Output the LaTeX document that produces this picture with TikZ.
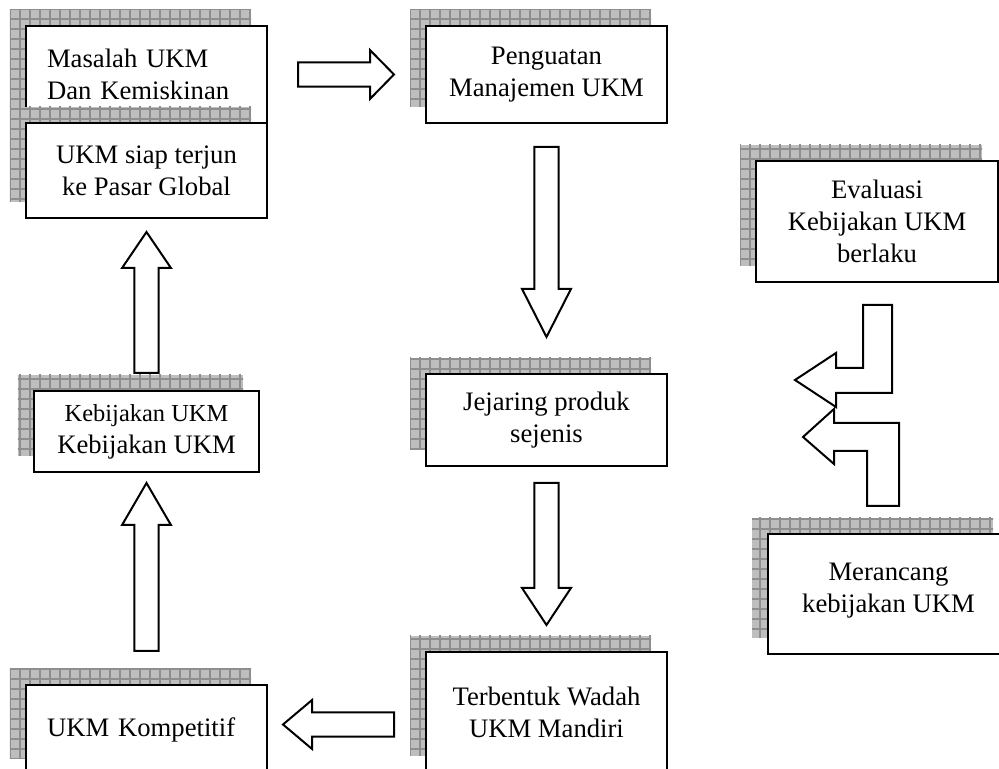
\documentclass[tikz,border=0pt]{standalone}
\usepackage{fontspec}
\setmainfont{Liberation Serif}
\usetikzlibrary{calc,patterns.meta}
\definecolor{abuBayang}{HTML}{BEBEBE}
\definecolor{abuGaris}{HTML}{8E8E8E}
\tikzset{
  kotak/.style={draw,line width=.9pt,fill=white,minimum width=108.45pt,inner sep=0pt,align=center,
    preaction={fill=abuBayang,transform canvas={shift={(-7.2pt,7.2pt)}}},
    preaction={pattern={Hatch[angle=0,distance=4.5pt,line width=.5pt]},pattern color=abuGaris,
      transform canvas={shift={(-7.2pt,7.2pt)}}}},
  blok/.style={draw,line width=.9pt,fill=white,line join=miter}
}
\newcommand{\blokpanah}[3]{%
  \coordinate (hb) at ($(#2)!#3*0.45pt!(#1)$);
  \draw[blok] ($(#1)!5.5pt!90:(#2)$) -- ($(hb)!5.5pt!90:(#2)$) -- ($(hb)!11pt!90:(#2)$) -- (#2)
    -- ($(hb)!11pt!-90:(#2)$) -- ($(hb)!5.5pt!-90:(#2)$) -- ($(#1)!5.5pt!-90:(#2)$) -- cycle;}

\begin{document}
\begin{tikzpicture}[x=0.45pt,y=-0.45pt,font=\fontsize{12}{14.5}\selectfont]
  \useasboundingbox (0,0) rectangle (999,769);
  \clip (0,0) rectangle (999,769);
  \node[kotak,minimum height=43.65pt,text width=89.55pt,align=left] (masalah) at (146.5,74.5)
    {Masalah UKM\\Dan Kemiskinan};
  \node[kotak,minimum height=42.75pt] (siap) at (146.5,170.5) {UKM siap terjun\\ke Pasar Global};
  \node[kotak,minimum height=43.65pt] (penguatan) at (546.5,74.5) {Penguatan\\Manajemen UKM};
  \node[kotak,minimum height=41.4pt] (jejaring) at (546.5,420) {Jejaring produk\\sejenis};
  \node[kotak,minimum height=54pt] (wadah) at (546.5,712) {Terbentuk Wadah\\UKM Mandiri};
  \node[kotak,minimum height=40.5pt,text width=89.55pt,align=left] (kompetitif) at (146.5,730)
    {UKM Kompetitif};
  \node[kotak,minimum width=101.25pt,minimum height=36.45pt] (kebijakan) at (146.5,431.5)
    {{\fontsize{11}{13}\selectfont Kebijakan UKM}\\Kebijakan UKM};
  \node[kotak,minimum width=108.9pt,minimum height=54.45pt] (evaluasi) at (877,221.5)
    {Evaluasi\\Kebijakan UKM\\berlaku};
  \node[kotak,minimum height=54pt,text height=19pt] (merancang) at (888.5,594) {Merancang\\kebijakan UKM};

  \coordinate (p1a) at ($(masalah.east)+(30,0)$);
  \coordinate (p1b) at ($(penguatan.west)+(-31,0)$);
  \coordinate (p2a) at ($(penguatan.south)+(0,23)$);
  \coordinate (p2b) at ($(jejaring.north)+(0,-36)$);
  \coordinate (p3a) at ($(jejaring.south)+(0,16)$);
  \coordinate (p3b) at ($(wadah.north)+(0,-26)$);
  \coordinate (p4a) at ($(wadah.west)+(-31,12.5)$);
  \coordinate (p4b) at ($(kompetitif.east)+(15,-5.5)$);
  \coordinate (p5a) at ($(kompetitif.north)+(0,-33)$);
  \coordinate (p5b) at ($(kebijakan.south)+(0,10)$);
  \coordinate (p6a) at ($(kebijakan.north)+(0,-17)$);
  \coordinate (p6b) at ($(siap.south)+(0,13)$);
  \blokpanah{p1a}{p1b}{24}
  \blokpanah{p2a}{p2b}{48}
  \blokpanah{p3a}{p3b}{37}
  \blokpanah{p4a}{p4b}{29}
  \blokpanah{p5a}{p5b}{42}
  \blokpanah{p6a}{p6b}{36}

  \draw[blok,shift={(evaluasi.south)}] (-14,22) -- (15,22) -- (15,110) -- (-41,110) -- (-41,124)
    -- (-82,97) -- (-41,70) -- (-41,85) -- (-14,85) -- cycle;
  \draw[blok,shift={(merancang.north)}] (10.5,-110) -- (10.5,-27) -- (-21.5,-27) -- (-21.5,-82)
    -- (-54.5,-82) -- (-54.5,-69) -- (-85.5,-96) -- (-54.5,-124) -- (-54.5,-110) -- cycle;
\end{tikzpicture}
\end{document}
